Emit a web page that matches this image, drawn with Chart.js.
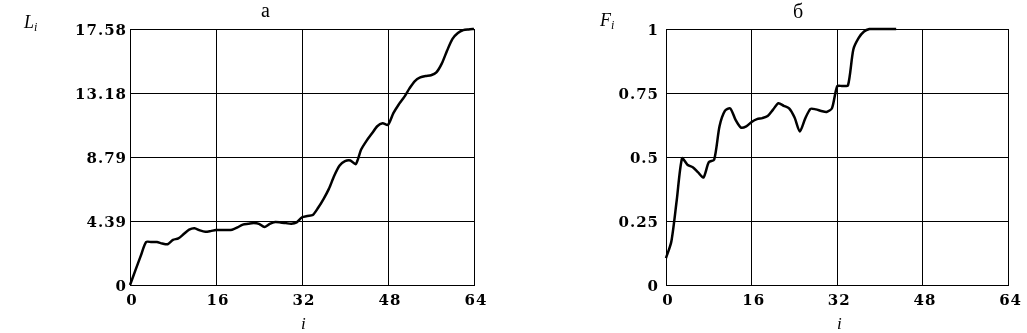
<!DOCTYPE html>
<html>
<head>
<meta charset="utf-8">
<script src="https://cdn.jsdelivr.net/npm/chart.js@4"></script>
<style>
    body { margin: 0; background: #fff; }
    #wrap { position: relative; width: 1027px; height: 333px; overflow: hidden; background: #fff; }
    canvas { position: absolute; top: 0; }
    .lbl { position: absolute; font-family: "Liberation Serif", serif; color: #000; line-height: 1; white-space: nowrap; }
    .it { font-style: italic; }
    sub { font-size: 12px; vertical-align: -3px; }
</style>
</head>
<body>
<div id="wrap">
    <canvas id="chartL" width="513" height="333" style="left:0"></canvas>
    <canvas id="chartF" width="514" height="333" style="left:513px"></canvas>
    <div class="lbl" style="left:261px;top:0px;font-size:20px">а</div>
    <div class="lbl" style="left:793px;top:1px;font-size:20px">б</div>
    <div class="lbl it" style="left:24px;top:13px;font-size:18px">L<sub>i</sub></div>
    <div class="lbl it" style="left:600px;top:11px;font-size:18px">F<sub>i</sub></div>
    <div class="lbl it" style="left:301px;top:315px;font-size:17px">i</div>
    <div class="lbl it" style="left:837px;top:315px;font-size:17px">i</div>
</div>
<script>
// значения (i = 0, 1, 2, ...)
const valuesL = [
    0, 1.0, 2.0, 2.95, 2.95, 2.95, 2.85, 2.8, 3.1, 3.2,
    3.5, 3.8, 3.9, 3.75, 3.65, 3.7, 3.78, 3.78, 3.78, 3.8,
    3.95, 4.15, 4.2, 4.25, 4.2, 3.98, 4.2, 4.33, 4.3, 4.25,
    4.2, 4.3, 4.65, 4.74, 4.8, 5.3, 5.9, 6.6, 7.5, 8.2,
    8.5, 8.55, 8.3, 9.3, 9.9, 10.4, 10.9, 11.1, 11.0, 11.8,
    12.4, 12.9, 13.5, 14.0, 14.25, 14.35, 14.4, 14.6, 15.2, 16.1,
    16.9, 17.3, 17.5, 17.55, 17.58
];
const valuesF = [
    0.105, 0.17, 0.33, 0.495, 0.47, 0.46, 0.44, 0.42, 0.48, 0.49,
    0.62, 0.68, 0.69, 0.645, 0.615, 0.62, 0.637, 0.648, 0.652, 0.66,
    0.685, 0.71, 0.70, 0.69, 0.655, 0.60, 0.65, 0.688, 0.686, 0.68,
    0.676, 0.69, 0.777, 0.777, 0.78, 0.92, 0.965, 0.99, 1.0, 1.0,
    1.0, 1.0, 1.0, 1.0
];
const xTicks = [0, 16, 32, 48, 64];
const yTicksL = [0, 4.39, 8.79, 13.18, 17.58];
const yTicksF = [0, 0.25, 0.5, 0.75, 1];

const tickFont = { family: 'DejaVu Serif', size: 15, weight: 'bold' };

// чуть разрядить цифры, как в оригинале
const spacing = {
    id: 'spacing',
    beforeUpdate(c) { c.ctx.letterSpacing = '1px'; },
    beforeDraw(c) { c.ctx.letterSpacing = '1px'; }
};

function makeChart(id, values, yTicks, yMax, yWidth, yPad, padRight) {
    const ctx = document.getElementById(id).getContext('2d');
    return new Chart(ctx, {
        type: 'line',
        data: {
            datasets: [{
                data: values.map((v, i) => ({ x: i, y: v })),
                borderColor: '#000',
                borderWidth: 2.5,
                pointRadius: 0,
                tension: 0.25,
                fill: false,
                clip: 4
            }]
        },
        options: {
            responsive: false,
            animation: false,
            layout: { padding: { top: 29, right: padRight, bottom: 0, left: 0 } },
            plugins: { legend: { display: false }, tooltip: { enabled: false } },
            scales: {
                x: {
                    type: 'linear',
                    min: 0,
                    max: 64,
                    afterBuildTicks: s => { s.ticks = xTicks.map(v => ({ value: v })); },
                    afterFit: s => { s.height = 48; },
                    grid: { color: '#000', lineWidth: 1, drawTicks: false },
                    border: { color: '#000', width: 1 },
                    ticks: { color: '#000', font: tickFont, padding: 7, maxRotation: 0, labelOffset: 2 }
                },
                y: {
                    type: 'linear',
                    min: 0,
                    max: yMax,
                    afterBuildTicks: s => { s.ticks = yTicks.map(v => ({ value: v })); },
                    afterFit: s => { s.width = yWidth; },
                    grid: { color: '#000', lineWidth: 1, drawTicks: false },
                    border: { color: '#000', width: 1 },
                    ticks: { color: '#000', font: tickFont, padding: yPad, labelOffset: 2, callback: v => String(v) }
                }
            }
        },
        plugins: [spacing]
    });
}

makeChart('chartL', valuesL, yTicksL, 17.58, 130, 3, 39);
makeChart('chartF', valuesF, yTicksF, 1, 153, 7, 17);
</script>
</body>
</html>
